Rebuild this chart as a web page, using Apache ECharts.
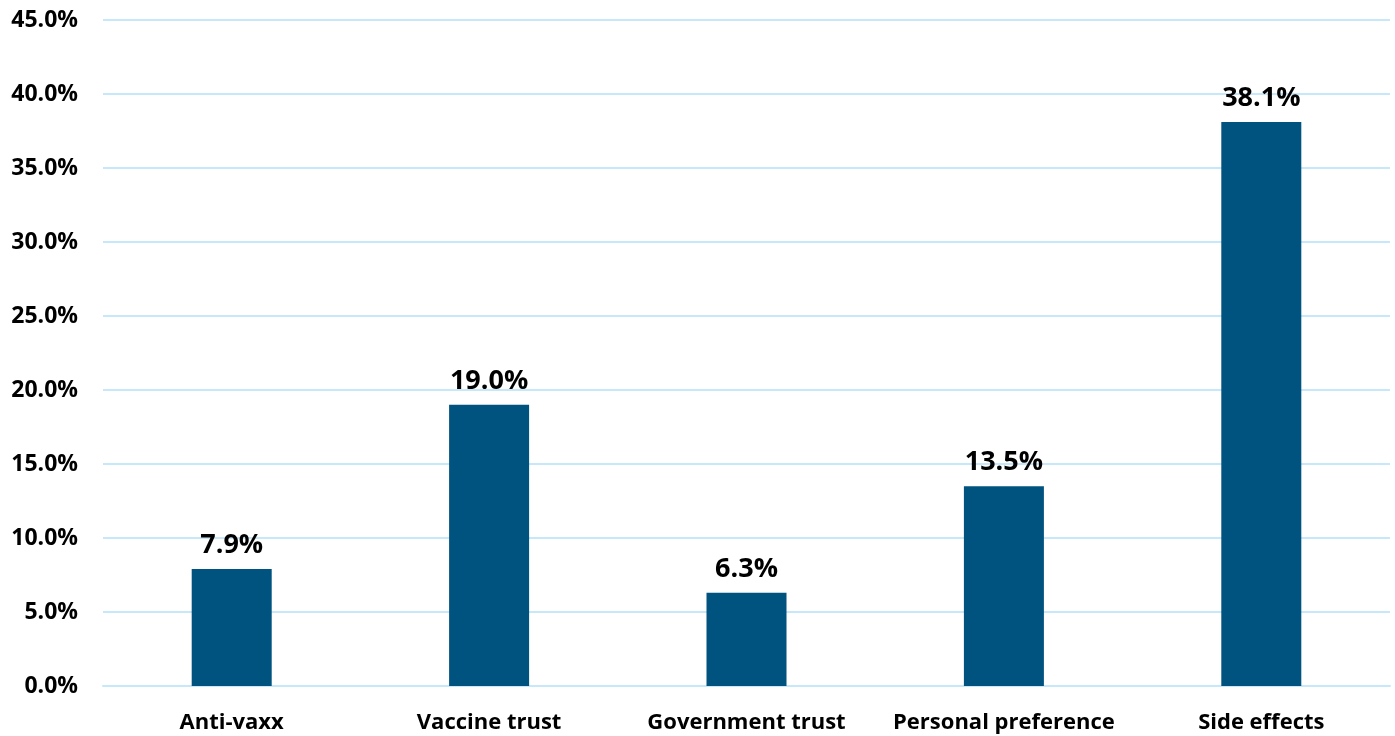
<!DOCTYPE html>
<html>
<head>
<meta charset="utf-8">
<script src="https://cdn.jsdelivr.net/npm/echarts@6/dist/echarts.min.js"></script>
<style>
html,body{margin:0;padding:0;background:#fff;}
#chart{width:1395px;height:736px;}
</style>
</head>
<body>
<div id="chart"></div>
<script>
const categories = ["Anti-vaxx", "Vaccine trust", "Government trust", "Personal preference", "Side effects"];
const values = [7.9, 19.0, 6.3, 13.5, 38.1];

const chart = echarts.init(document.getElementById('chart'));
const font = '"Open Sans", "Noto Sans", sans-serif';
chart.setOption({
  animation: false,
  grid: {left: 103, right: 5, top: 20, bottom: 50, containLabel: false},
  xAxis: {
    type: 'category',
    data: categories,
    axisLine: {show: true, lineStyle: {color: '#C6E8FA', width: 2}},
    axisTick: {show: false},
    axisLabel: {color: '#000', fontWeight: 'bold', fontSize: 22, fontFamily: font, margin: 26, interval: 0}
  },
  yAxis: {
    type: 'value',
    min: 0, max: 45, interval: 5,
    axisLine: {show: false},
    axisTick: {show: false},
    splitLine: {lineStyle: {color: '#C6E8FA', width: 2}},
    axisLabel: {color: '#000', fontWeight: 'bold', fontSize: 23, fontFamily: font, margin: 25,
      formatter: v => v.toFixed(1) + '%'}
  },
  series: [{
    type: 'bar',
    data: values,
    barWidth: 80,
    itemStyle: {color: '#00527F'},
    label: {show: true, position: 'top', distance: 10, color: '#000', fontWeight: 'bold', fontSize: 27, fontFamily: font,
      formatter: p => p.value.toFixed(1) + '%'}
  }]
});
</script>
</body>
</html>
